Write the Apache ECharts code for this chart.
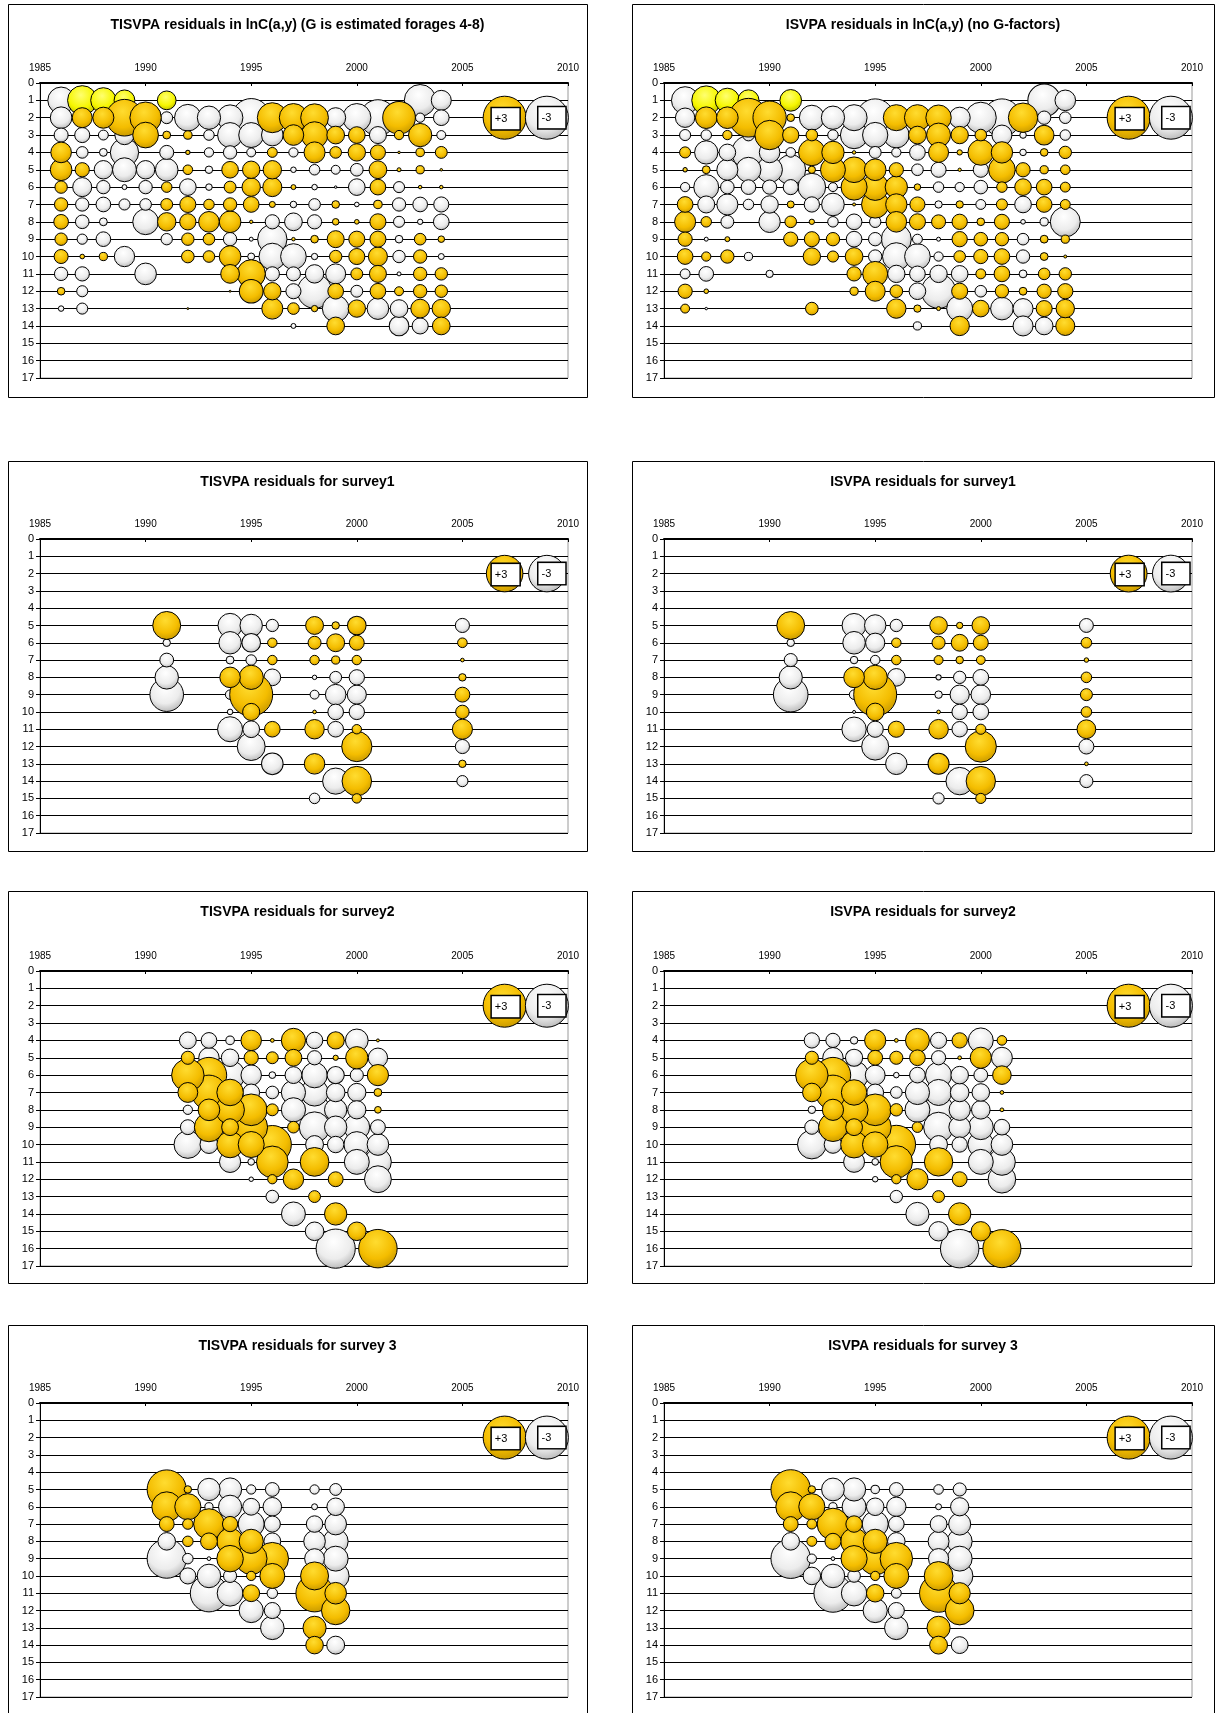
<!DOCTYPE html>
<html><head><meta charset="utf-8">
<script src="https://cdn.jsdelivr.net/npm/echarts@6/dist/echarts.min.js"></script>
<style>html,body{margin:0;padding:0;background:#fff;}#c{width:1218px;height:1713px;}</style>
</head><body><div id="c"></div>
<script>
// ---------- tick labels ----------
const yearTicks = [1985, 1990, 1995, 2000, 2005, 2010];
const ageTicks = [0,1,2,3,4,5,6,7,8,9,10,11,12,13,14,15,16,17];
const legendBubbles = [[2007, 2, 3], [2009, 2, -3]];   // "+3" and "-3" key bubbles

// ---------- residuals: [year, age, residual] ----------
const TIS_C = [
[1986,1,-1.15],[1987,1,1.4],[1988,1,1.04],[1989,1,0.7],[1991,1,0.57],[2003,1,-1.63],[2004,1,-0.65],
[1986,2,-0.76],[1987,2,0.65],[1988,2,0.72],[1989,2,2.18],[1990,2,1.6],[1991,2,-0.23],[1992,2,-1.15],[1993,2,-0.88],[1994,2,-1.07],[1995,2,-2.38],[1996,2,1.46],[1997,2,1.3],[1998,2,1.25],[1999,2,-0.65],[2000,2,-1.3],[2001,2,-2.1],[2002,2,1.73],[2003,2,-0.14],[2004,2,-0.4],
[1986,3,-0.32],[1987,3,-0.37],[1988,3,-0.16],[1989,3,-0.6],[1990,3,1.07],[1991,3,0.1],[1992,3,0.12],[1993,3,-0.18],[1994,3,-1.01],[1995,3,-1.01],[1996,3,-0.76],[1997,3,0.69],[1998,3,1.15],[1999,3,0.51],[2000,3,0.45],[2001,3,-0.47],[2002,3,0.14],[2003,3,0.88],[2004,3,-0.13],
[1986,4,0.69],[1987,4,-0.22],[1988,4,-0.1],[1989,4,-1.3],[1991,4,-0.32],[1992,4,0.03],[1993,4,-0.14],[1994,4,-0.29],[1995,4,-0.13],[1996,4,0.16],[1997,4,-0.14],[1998,4,0.72],[1999,4,0.22],[2000,4,0.49],[2001,4,0.37],[2002,4,0.01],[2003,4,0.12],[2004,4,0.23],
[1986,5,0.76],[1987,5,0.33],[1988,5,-0.55],[1989,5,-0.93],[1990,5,-0.55],[1991,5,-0.83],[1992,5,0.15],[1993,5,-0.09],[1994,5,0.45],[1995,5,0.49],[1996,5,0.55],[1997,5,-0.05],[1998,5,-0.18],[1999,5,-0.13],[2000,5,-0.26],[2001,5,0.51],[2002,5,0.026],[2003,5,0.11],[2004,5,0.01],
[1986,6,0.25],[1987,6,-0.59],[1988,6,-0.29],[1989,6,-0.04],[1990,6,-0.29],[1991,6,0.18],[1992,6,-0.45],[1993,6,-0.07],[1994,6,0.23],[1995,6,0.55],[1996,6,0.59],[1997,6,0.04],[1998,6,-0.05],[1999,6,-0.01],[2000,6,-0.45],[2001,6,0.4],[2002,6,-0.2],[2003,6,0.02],[2004,6,0.02],
[1986,7,0.29],[1987,7,-0.29],[1988,7,-0.35],[1989,7,-0.2],[1990,7,-0.22],[1991,7,0.23],[1992,7,0.42],[1993,7,0.18],[1994,7,0.29],[1995,7,0.4],[1996,7,0.06],[1997,7,-0.07],[1998,7,-0.22],[1999,7,0.095],[2000,7,-0.035],[2001,7,0.12],[2002,7,-0.29],[2003,7,-0.35],[2004,7,-0.37],
[1986,8,0.35],[1987,8,-0.3],[1988,8,-0.1],[1990,8,-1.07],[1991,8,0.55],[1992,8,0.43],[1993,8,0.69],[1994,8,0.76],[1995,8,0.018],[1996,8,-0.33],[1997,8,-0.51],[1998,8,-0.33],[1999,8,0.07],[2000,8,0.035],[2001,8,0.42],[2002,8,-0.2],[2003,8,-0.046],[2004,8,-0.4],
[1986,9,0.25],[1987,9,-0.17],[1988,9,-0.35],[1991,9,-0.21],[1992,9,0.25],[1993,9,0.22],[1994,9,-0.29],[1995,9,-0.026],[1996,9,-1.4],[1997,9,0.02],[1998,9,0.095],[1999,9,0.47],[2000,9,0.42],[2001,9,0.42],[2002,9,-0.095],[2003,9,0.22],[2004,9,0.07],
[1986,10,0.32],[1987,10,0.035],[1988,10,0.11],[1989,10,-0.67],[1992,10,0.26],[1993,10,0.22],[1994,10,0.76],[1995,10,-0.08],[1996,10,-1.15],[1997,10,-1.07],[1998,10,-0.065],[1999,10,0.25],[2000,10,0.42],[2001,10,0.59],[2002,10,-0.25],[2003,10,0.29],[2004,10,-0.058],
[1986,11,-0.29],[1987,11,-0.33],[1990,11,-0.76],[1994,11,0.57],[1995,11,1.3],[1996,11,-0.33],[1997,11,-0.32],[1998,11,-0.55],[1999,11,-0.65],[2000,11,0.23],[2001,11,0.47],[2002,11,-0.026],[2003,11,0.29],[2004,11,0.25],
[1986,12,0.095],[1987,12,-0.2],[1994,12,0.006],[1995,12,0.91],[1996,12,0.49],[1997,12,-0.37],[1998,12,-1.9],[1999,12,0.4],[2000,12,-0.23],[2001,12,0.4],[2002,12,0.13],[2003,12,0.29],[2004,12,0.25],
[1986,13,-0.05],[1987,13,-0.2],[1992,13,0.006],[1996,13,0.72],[1997,13,0.22],[1998,13,0.065],[1999,13,-1.15],[2000,13,0.49],[2001,13,-0.76],[2002,13,-0.51],[2003,13,0.57],[2004,13,0.55],
[1997,14,-0.04],[1999,14,0.51],[2002,14,-0.63],[2003,14,-0.42],[2004,14,0.51]
];
const ISV_C = [
[1986,1,-1.21],[1987,1,1.36],[1988,1,0.96],[1989,1,0.72],[1991,1,0.76],[2003,1,-1.73],[2004,1,-0.69],
[1986,2,-0.61],[1987,2,0.76],[1988,2,0.76],[1989,2,2.43],[1990,2,1.8],[1991,2,0.095],[1992,2,-1.01],[1993,2,-0.88],[1994,2,-1.1],[1995,2,-2.3],[1996,2,1.1],[1997,2,1.1],[1998,2,1.05],[1999,2,-0.72],[2000,2,-1.56],[2001,2,-2.3],[2002,2,1.4],[2003,2,-0.29],[2004,2,-0.22],
[1986,3,-0.2],[1987,3,-0.18],[1988,3,0.14],[1989,3,-0.22],[1990,3,1.4],[1991,3,0.43],[1992,3,0.22],[1993,3,-0.18],[1994,3,-1.21],[1995,3,-1.04],[1996,3,-1.07],[1997,3,0.51],[1998,3,0.93],[1999,3,0.49],[2000,3,0.22],[2001,3,-0.65],[2002,3,-0.07],[2003,3,0.63],[2004,3,-0.18],
[1986,4,0.2],[1987,4,-0.88],[1988,4,-0.45],[1989,4,-1.8],[1990,4,-0.69],[1991,4,-0.15],[1992,4,1.15],[1993,4,0.81],[1994,4,0.02],[1995,4,-0.23],[1996,4,-0.14],[1997,4,-0.4],[1998,4,0.65],[1999,4,0.046],[2000,4,1.07],[2001,4,0.74],[2002,4,-0.07],[2003,4,0.095],[2004,4,0.25],
[1986,5,0.03],[1987,5,0.1],[1988,5,-0.72],[1989,5,-1.01],[1990,5,-1.07],[1991,5,-1.46],[1992,5,0.087],[1993,5,1.01],[1994,5,1.07],[1995,5,0.76],[1996,5,0.33],[1997,5,-0.22],[1998,5,-0.37],[1999,5,0.018],[2000,5,-0.37],[2001,5,1.15],[2002,5,0.33],[2003,5,0.11],[2004,5,0.15],
[1986,6,-0.14],[1987,6,-1.01],[1988,6,-0.3],[1989,6,-0.35],[1990,6,-0.33],[1991,6,-0.37],[1992,6,-1.24],[1993,6,-0.13],[1994,6,1.1],[1995,6,1.15],[1996,6,0.81],[1997,6,0.07],[1998,6,-0.18],[1999,6,-0.14],[2000,6,-0.3],[2001,6,0.18],[2002,6,0.45],[2003,6,0.4],[2004,6,0.16],
[1986,7,0.4],[1987,7,-0.47],[1988,7,-0.72],[1989,7,-0.18],[1990,7,-0.49],[1991,7,0.08],[1992,7,-0.38],[1993,7,-0.83],[1994,7,0.015],[1995,7,1.21],[1996,7,0.74],[1997,7,0.37],[1998,7,-0.087],[1999,7,0.087],[2000,7,-0.16],[2001,7,0.2],[2002,7,-0.45],[2003,7,0.4],[2004,7,0.16],
[1986,8,0.72],[1987,8,0.18],[1988,8,-0.27],[1990,8,-0.74],[1991,8,0.22],[1992,8,0.046],[1993,8,-0.18],[1994,8,-0.4],[1995,8,-0.21],[1996,8,0.69],[1997,8,0.42],[1998,8,0.32],[1999,8,0.38],[2000,8,0.095],[2001,8,0.37],[2002,8,-0.035],[2003,8,-0.11],[2004,8,-1.46],
[1986,9,0.33],[1987,9,-0.026],[1988,9,0.04],[1991,9,0.33],[1992,9,0.37],[1993,9,0.29],[1994,9,-0.4],[1995,9,-0.29],[1996,9,-1.46],[1997,9,-0.16],[1998,9,-0.026],[1999,9,0.38],[2000,9,0.3],[2001,9,0.29],[2002,9,-0.22],[2003,9,0.1],[2004,9,0.11],
[1986,10,0.4],[1987,10,0.14],[1988,10,0.29],[1989,10,-0.11],[1992,10,0.49],[1993,10,0.2],[1994,10,0.51],[1995,10,-0.29],[1996,10,-1.24],[1997,10,-1.07],[1998,10,-0.14],[1999,10,0.22],[2000,10,0.33],[2001,10,0.4],[2002,10,-0.29],[2003,10,0.1],[2004,10,0.015],
[1986,11,-0.16],[1987,11,-0.35],[1990,11,-0.087],[1994,11,0.33],[1995,11,1.01],[1996,11,-0.49],[1997,11,-0.4],[1998,11,-0.49],[1999,11,-0.45],[2000,11,0.16],[2001,11,0.4],[2002,11,-0.1],[2003,11,0.22],[2004,11,0.25],
[1986,12,0.33],[1987,12,0.035],[1994,12,0.11],[1995,12,0.65],[1996,12,0.26],[1997,12,-0.45],[1998,12,-1.9],[1999,12,0.42],[2000,12,-0.22],[2001,12,0.29],[2002,12,0.1],[2003,12,0.33],[2004,12,0.38],
[1986,13,0.13],[1987,13,-0.01],[1992,13,0.26],[1996,13,0.61],[1997,13,0.087],[1998,13,0.026],[1999,13,-1.1],[2000,13,0.45],[2001,13,-0.83],[2002,13,-0.65],[2003,13,0.42],[2004,13,0.55],
[1997,14,-0.11],[1999,14,0.61],[2002,14,-0.65],[2003,14,-0.51],[2004,14,0.59]
];
const TIS_S1 = [
[1991,5,1.76],[1994,5,-1.32],[1995,5,-1.13],[1996,5,-0.34],[1998,5,0.72],[1999,5,0.125],[2000,5,0.78],[2005,5,-0.45],
[1991,6,-0.125],[1994,6,-1.13],[1995,6,-0.78],[1996,6,0.2],[1998,6,0.38],[1999,6,0.72],[2000,6,0.5],[2005,6,0.21],
[1991,7,-0.43],[1994,7,-0.14],[1995,7,-0.25],[1996,7,0.2],[1998,7,0.2],[1999,7,0.15],[2000,7,0.2],[2005,7,0.03],
[1991,8,-1.24],[1994,8,0.95],[1995,8,1.32],[1996,8,-0.63],[1998,8,-0.045],[1999,8,-0.32],[2000,8,-0.53],[2005,8,0.125],
[1991,9,-2.54],[1994,9,-0.2],[1995,9,4.16],[1998,9,-0.18],[1999,9,-0.95],[2000,9,-0.82],[2005,9,0.5],
[1994,10,-0.07],[1995,10,0.66],[1998,10,0.03],[1999,10,-0.55],[2000,10,-0.53],[2005,10,0.41],
[1994,11,-1.41],[1995,11,-0.63],[1996,11,0.55],[1998,11,0.85],[1999,11,-0.55],[2000,11,0.2],[2005,11,0.91],
[1995,12,-1.76],[2000,12,2.06],[2005,12,-0.45],
[1996,13,-1.05],[1998,13,0.95],[2005,13,0.125],
[1999,14,-1.54],[2000,14,1.96],[2005,14,-0.28],
[1998,15,-0.25],[2000,15,0.2]
];
const ISV_S1 = [
[1991,5,1.72],[1994,5,-1.28],[1995,5,-1.02],[1996,5,-0.34],[1998,5,0.69],[1999,5,0.09],[2000,5,0.69],[2005,5,-0.43],
[1991,6,-0.125],[1994,6,-1.13],[1995,6,-0.82],[1996,6,0.2],[1998,6,0.38],[1999,6,0.63],[2000,6,0.5],[2005,6,0.25],
[1991,7,-0.38],[1994,7,-0.125],[1995,7,-0.2],[1996,7,0.2],[1998,7,0.18],[1999,7,0.125],[2000,7,0.17],[2005,7,0.045],
[1991,8,-1.2],[1994,8,0.95],[1995,8,1.3],[1996,8,-0.69],[1998,8,-0.06],[1999,8,-0.34],[2000,8,-0.55],[2005,8,0.25],
[1991,9,-2.65],[1994,9,-0.2],[1995,9,4.1],[1998,9,-0.125],[1999,9,-0.82],[2000,9,-0.85],[2005,9,0.32],
[1994,10,-0.02],[1995,10,0.69],[1998,10,0.03],[1999,10,-0.53],[2000,10,-0.55],[2005,10,0.25],
[1994,11,-1.32],[1995,11,-0.58],[1996,11,0.58],[1998,11,0.85],[1999,11,-0.53],[2000,11,0.23],[2005,11,0.78],
[1995,12,-1.63],[2000,12,2.16],[2005,12,-0.5],
[1996,13,-1.02],[1998,13,0.98],[2005,13,0.03],
[1999,14,-1.67],[2000,14,1.91],[2005,14,-0.38],
[1998,15,-0.28],[2000,15,0.23]
];
const TIS_S2 = [
[1992,4,-0.46],[1993,4,-0.4],[1994,4,-0.12],[1995,4,0.68],[1996,4,0.023],[1997,4,0.95],[1998,4,-0.44],[1999,4,0.48],[2000,4,-0.84],[2001,4,0.014],
[1992,5,0.28],[1993,5,-0.68],[1994,5,-0.5],[1995,5,0.33],[1996,5,0.23],[1997,5,0.46],[1998,5,-0.33],[1999,5,0.044],[2000,5,0.81],[2001,5,-0.61],
[1992,6,1.71],[1993,6,2.04],[1994,6,-1.41],[1995,6,-0.68],[1996,6,-0.073],[1997,6,-0.46],[1998,6,-1.05],[1999,6,-0.48],[2000,6,-0.28],[2001,6,0.73],
[1992,7,0.64],[1993,7,1.95],[1994,7,1.14],[1995,7,-0.46],[1996,7,-0.26],[1997,7,-0.95],[1998,7,-1.2],[1999,7,-0.56],[2000,7,-0.54],[2001,7,0.1],
[1992,8,-0.14],[1993,8,0.76],[1994,8,1.34],[1995,8,1.63],[1996,8,0.23],[1997,8,-0.95],[1998,8,-1.52],[1999,8,-0.81],[2000,8,-0.54],[2001,8,0.073],
[1992,9,-0.36],[1993,9,1.38],[1994,9,0.46],[1995,9,1.75],[1997,9,0.22],[1998,9,-1.52],[1999,9,-0.81],[2000,9,-1.08],[2001,9,-0.36],
[1992,10,-1.24],[1993,10,-0.52],[1994,10,1.14],[1995,10,1.1],[1996,10,2.35],[1998,10,-0.52],[1999,10,-0.44],[2000,10,-1.08],[2001,10,-0.76],
[1994,11,-0.73],[1995,11,-0.073],[1996,11,1.63],[1998,11,1.34],[2000,11,-1.01],[2001,11,-1.17],
[1995,12,-0.033],[1996,12,0.14],[1997,12,0.68],[1999,12,0.36],[2001,12,-1.17],
[1996,13,-0.26],[1998,13,0.23],
[1997,14,-0.93],[1999,14,0.81],
[1998,15,-0.56],[2000,15,0.56],
[1999,16,-2.49],[2001,16,2.4]
];
const ISV_S2 = [
[1992,4,-0.38],[1993,4,-0.33],[1994,4,-0.09],[1995,4,0.73],[1996,4,0.023],[1997,4,0.93],[1998,4,-0.42],[1999,4,0.38],[2000,4,-1.01],[2001,4,0.15],
[1992,5,0.28],[1993,5,-0.68],[1994,5,-0.48],[1995,5,0.36],[1996,5,0.28],[1997,5,0.4],[1998,5,-0.33],[1999,5,0.023],[2000,5,0.73],[2001,5,-0.71],
[1992,6,1.71],[1993,6,2.04],[1994,6,-1.34],[1995,6,-0.64],[1996,6,-0.05],[1997,6,-0.4],[1998,6,-1.1],[1999,6,-0.5],[2000,6,-0.31],[2001,6,0.56],
[1992,7,0.56],[1993,7,1.95],[1994,7,1.05],[1995,7,-0.46],[1996,7,-0.22],[1997,7,-0.95],[1998,7,-1.1],[1999,7,-0.56],[2000,7,-0.5],[2001,7,0.023],
[1992,8,-0.09],[1993,8,0.73],[1994,8,1.27],[1995,8,1.63],[1996,8,0.25],[1997,8,-1.01],[1998,8,-1.45],[1999,8,-0.73],[2000,8,-0.56],[2001,8,0.023],
[1992,9,-0.33],[1993,9,1.34],[1994,9,0.46],[1995,9,1.67],[1997,9,0.18],[1998,9,-1.45],[1999,9,-0.76],[2000,9,-1.01],[2001,9,-0.4],
[1992,10,-1.34],[1993,10,-0.5],[1994,10,1.17],[1995,10,1.05],[1996,10,2.4],[1998,10,-0.52],[1999,10,-0.38],[2000,10,-1.08],[2001,10,-0.76],
[1994,11,-0.71],[1995,11,-0.073],[1996,11,1.71],[1998,11,1.31],[2000,11,-1.01],[2001,11,-1.17],
[1995,12,-0.05],[1996,12,0.14],[1997,12,0.73],[1999,12,0.36],[2001,12,-1.24],
[1996,13,-0.25],[1998,13,0.23],
[1997,14,-0.87],[1999,14,0.81],
[1998,15,-0.61],[2000,15,0.61],
[1999,16,-2.4],[2001,16,2.35]
];
const TIS_S3 = [
[1991,5,2.49],[1992,5,0.09],[1993,5,-0.81],[1994,5,-0.87],[1995,5,-0.14],[1996,5,-0.31],[1998,5,-0.14],[1999,5,-0.23],
[1991,6,1.45],[1992,6,1.11],[1993,6,-0.11],[1994,6,-0.87],[1995,6,-0.46],[1996,6,-0.56],[1998,6,-0.058],[1999,6,-0.5],
[1991,7,0.36],[1992,7,0.18],[1993,7,1.52],[1994,7,0.38],[1995,7,-1.11],[1996,7,-0.42],[1998,7,-0.44],[1999,7,-0.76],
[1991,8,-0.5],[1992,8,0.18],[1993,8,0.46],[1994,8,1.14],[1995,8,0.95],[1996,8,-0.46],[1998,8,-0.76],[1999,8,-1.01],
[1991,9,-2.49],[1992,9,-0.18],[1993,9,-0.023],[1994,9,1.14],[1995,9,1.63],[1996,9,1.71],[1998,9,-0.64],[1999,9,-1.01],
[1992,10,-0.42],[1993,10,-0.9],[1994,10,-0.28],[1995,10,0.14],[1996,10,1.01],[1998,10,1.27],[1999,10,-1.17],
[1993,11,-2.26],[1994,11,-1.08],[1995,11,0.46],[1996,11,-0.18],[1998,11,2.26],[1999,11,0.76],
[1995,12,-0.95],[1996,12,-0.42],[1999,12,1.31],
[1996,13,-0.9],[1998,13,0.87],
[1998,14,0.5],[1999,14,-0.52]
];
const ISV_S3 = [
[1991,5,2.54],[1992,5,0.09],[1993,5,-0.84],[1994,5,-0.87],[1995,5,-0.12],[1996,5,-0.31],[1998,5,-0.15],[1999,5,-0.28],
[1991,6,1.45],[1992,6,1.11],[1993,6,-0.11],[1994,6,-0.93],[1995,6,-0.5],[1996,6,-0.61],[1998,6,-0.058],[1999,6,-0.54],
[1991,7,0.36],[1992,7,0.16],[1993,7,1.63],[1994,7,0.44],[1995,7,-1.11],[1996,7,-0.4],[1998,7,-0.46],[1999,7,-0.79],
[1991,8,-0.5],[1992,8,0.16],[1993,8,0.42],[1994,8,1.17],[1995,8,0.95],[1996,8,-0.5],[1998,8,-0.71],[1999,8,-1.01],
[1991,9,-2.54],[1992,9,-0.14],[1993,9,-0.023],[1994,9,1.11],[1995,9,1.71],[1996,9,1.71],[1998,9,-0.66],[1999,9,-1.01],
[1992,10,-0.5],[1993,10,-0.9],[1994,10,-0.26],[1995,10,0.14],[1996,10,1.01],[1998,10,1.34],[1999,10,-1.14],
[1993,11,-2.35],[1994,11,-1.05],[1995,11,0.5],[1996,11,-0.16],[1998,11,2.35],[1999,11,0.73],
[1995,12,-0.95],[1996,12,-0.42],[1999,12,1.34],
[1996,13,-0.9],[1998,13,0.87],
[1998,14,0.52],[1999,14,-0.46]
];

const titles = [
  'TISVPA residuals in lnC(a,y) (G is estimated forages 4-8)',
  'ISVPA residuals in lnC(a,y) (no G-factors)',
  'TISVPA residuals for survey1', 'ISVPA residuals for survey1',
  'TISVPA residuals for survey2', 'ISVPA residuals for survey2',
  'TISVPA residuals for survey 3', 'ISVPA residuals for survey 3'
];
const panelData = [TIS_C, ISV_C, TIS_S1, ISV_S1, TIS_S2, ISV_S2, TIS_S3, ISV_S3];
const yellowFirstAge = [true, true, false, false, false, false, false, false];

// ---------- layout ----------
const FONT = '"Liberation Sans", Arial, Helvetica, sans-serif';
const COLS = [{bx: 8, bw: 579, pl: 40}, {bx: 632, bw: 582, pl: 664}];
const ROWS = [{by: 4, bh: 393, pt: 83, ph: 295}, {by: 461, bh: 390, pt: 539, ph: 294},
              {by: 891, bh: 392, pt: 971, ph: 295}, {by: 1325, bh: 392, pt: 1403, ph: 294}];
const PW = 528, MAXD = 43;

const grad = (c0, c1, c2) => new echarts.graphic.RadialGradient(0.45, 0.33, 0.78,
  [{offset: 0, color: c0}, {offset: 0.55, color: c1}, {offset: 1, color: c2}]);
const WHITE = grad('#ffffff', '#ececec', '#a4a4a4');
const ORANGE = grad('#ffdc30', '#f4bd00', '#b58a00');
const YELLOW = grad('#ffff70', '#f6f600', '#a6a600');

const grids = [], xAxes = [], yAxes = [], series = [], titleOpts = [], graphics = [];

panelData.forEach((data, i) => {
  const col = COLS[i % 2], row = ROWS[Math.floor(i / 2)];
  grids.push({left: col.pl, top: row.pt, width: PW, height: row.ph, show: true,
    borderColor: '#9a9a9a', borderWidth: 1, backgroundColor: 'transparent'});
  xAxes.push({gridIndex: i, type: 'value', position: 'top', min: yearTicks[0],
    max: yearTicks[yearTicks.length - 1], interval: 5,
    axisLine: {show: true, onZero: false, lineStyle: {color: '#000', width: 2}},
    axisTick: {show: true, inside: true, length: 3, lineStyle: {color: '#000'}},
    axisLabel: {fontSize: 10, color: '#000', margin: 10, fontFamily: FONT, formatter: v => String(v)},
    splitLine: {show: false}});
  yAxes.push({gridIndex: i, type: 'value', inverse: true, min: ageTicks[0],
    max: ageTicks[ageTicks.length - 1], interval: 1,
    axisLine: {show: true, onZero: false, lineStyle: {color: '#000', width: 1}},
    axisTick: {show: true, length: 4, lineStyle: {color: '#000'}},
    axisLabel: {fontSize: 11, color: '#000', margin: 6, fontFamily: FONT},
    splitLine: {show: true, lineStyle: {color: '#000', width: 1}}});
  titleOpts.push({text: titles[i], left: col.bx + col.bw / 2, top: row.by + 14, textAlign: 'center',
    padding: 0, textStyle: {fontSize: 14, fontWeight: 'bold', color: '#000', fontFamily: FONT}});
  graphics.push({type: 'rect', silent: true, z: 100,
    shape: {x: col.bx + 0.5, y: row.by + 0.5, width: col.bw, height: row.bh},
    style: {fill: 'none', stroke: '#000', lineWidth: 1}});

  const M = Math.max(3, ...data.map(d => Math.abs(d[2])));
  const size = d => MAXD * Math.sqrt(Math.abs(d[2]) / M);
  const byAbsDesc = (a, b) => Math.abs(b[2]) - Math.abs(a[2]);
  const neg = data.filter(d => d[2] < 0).sort(byAbsDesc);
  const yel = data.filter(d => d[2] > 0 && yellowFirstAge[i] && d[1] === 1).sort(byAbsDesc);
  const pos = data.filter(d => d[2] > 0 && !(yellowFirstAge[i] && d[1] === 1)).sort(byAbsDesc);
  const base = {type: 'scatter', xAxisIndex: i, yAxisIndex: i, symbol: 'circle', symbolSize: size,
    clip: false, silent: true, animation: false};
  series.push(Object.assign({}, base, {name: 'neg' + i, data: neg,
    itemStyle: {color: WHITE, borderColor: '#000', borderWidth: 1, opacity: 1}}));
  if (yel.length) series.push(Object.assign({}, base, {name: 'yel' + i, data: yel,
    itemStyle: {color: YELLOW, borderColor: '#000', borderWidth: 1, opacity: 1}}));
  series.push(Object.assign({}, base, {name: 'pos' + i, data: pos,
    itemStyle: {color: ORANGE, borderColor: '#000', borderWidth: 1, opacity: 1}}));
  const lab = (txt, pad, off) => ({show: true, position: 'inside', formatter: txt, color: '#000',
    fontSize: 11, fontFamily: FONT, lineHeight: 12, backgroundColor: '#ffffff', borderColor: '#000',
    borderWidth: 1.5, padding: pad, offset: off, textBorderWidth: 0, opacity: 1});
  series.push(Object.assign({}, base, {name: 'key' + i, z: 5, itemStyle: {opacity: 1}, data: [
    {value: legendBubbles[0], itemStyle: {color: ORANGE, borderColor: '#000', borderWidth: 1, opacity: 1},
     label: lab('+3', [3, 12, 6, 3], [1, 1])},
    {value: legendBubbles[1], itemStyle: {color: WHITE, borderColor: '#000', borderWidth: 1, opacity: 1},
     label: lab('-3', [3, 14, 6, 3], [5, 0])}
  ]}));
});

const chart = echarts.init(document.getElementById('c'), null, {renderer: 'canvas'});
chart.setOption({
  backgroundColor: '#fff', animation: false,
  title: titleOpts, grid: grids, xAxis: xAxes, yAxis: yAxes, series: series, graphic: graphics
});
</script></body></html>
